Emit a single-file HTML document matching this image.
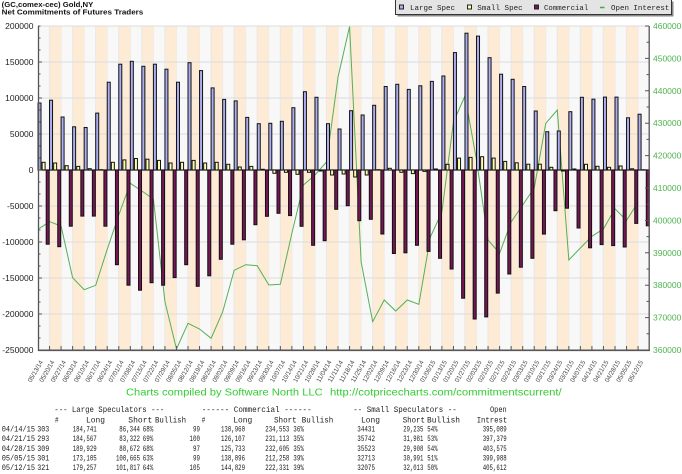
<!DOCTYPE html>
<html><head><meta charset="utf-8"><style>
html,body{margin:0;padding:0;background:#fff;}
svg{display:block;}
.l{fill:#acaef0;stroke:#111;stroke-width:1}
.s{fill:#ffffaa;stroke:#111;stroke-width:1}
.c{fill:#771555;stroke:#111;stroke-width:1}
.ax{font-family:"Liberation Sans",sans-serif;font-size:8.5px;fill:#222}
.ar{font-family:"Liberation Sans",sans-serif;font-size:8.5px;fill:#4db34d}
.dl{font-family:"Liberation Sans",sans-serif;font-size:6.5px;fill:#444}
.tb{font-family:"Liberation Mono",monospace;font-size:8px;fill:#222}
.lg{font-family:"Liberation Mono",monospace;font-size:7.5px;fill:#222}
</style></head><body>
<svg width="682" height="474" viewBox="0 0 682 474" xmlns="http://www.w3.org/2000/svg">
<defs>
<pattern id="st" x="38" y="0" width="23.08" height="474" patternUnits="userSpaceOnUse">
<rect x="0" y="0" width="11.54" height="474" fill="#f8f8f8"/>
<rect x="11.54" y="0" width="11.54" height="474" fill="#fdebd5"/>
<rect x="11.04" y="0" width="0.8" height="474" fill="#e6e6e6"/>
<rect x="-0.4" y="0" width="0.8" height="474" fill="#e6e6e6"/>
</pattern>
</defs>
<rect x="0" y="0" width="682" height="474" fill="#fff"/>
<!-- title -->
<text x="1.7" y="6.8" font-family="Liberation Sans, sans-serif" font-weight="bold" font-size="7px" fill="#111" textLength="91.6" lengthAdjust="spacingAndGlyphs">(GC,comex-cec) Gold,NY</text>
<text x="1.7" y="14.6" font-family="Liberation Sans, sans-serif" font-weight="bold" font-size="7px" fill="#111" textLength="141.6" lengthAdjust="spacingAndGlyphs">Net Commitments of Futures Traders</text>
<!-- legend -->
<rect x="397.5" y="1.5" width="276" height="15" fill="#8a8a8a"/>
<rect x="395.5" y="-0.5" width="276" height="15" fill="#e4e4e4" stroke="#333" stroke-width="1"/>
<rect x="399.5" y="5" width="4" height="4" fill="#acaef0" stroke="#222" stroke-width="1"/>
<text class="lg" x="410" y="10" textLength="45" lengthAdjust="spacingAndGlyphs">Large Spec</text>
<rect x="467.5" y="5" width="4" height="4" fill="#ffffaa" stroke="#222" stroke-width="1"/>
<text class="lg" x="477.3" y="10" textLength="45.4" lengthAdjust="spacingAndGlyphs">Small Spec</text>
<rect x="534.5" y="5" width="4" height="4" fill="#771555" stroke="#222" stroke-width="1"/>
<text class="lg" x="544" y="10" textLength="44.3" lengthAdjust="spacingAndGlyphs">Commercial</text>
<line x1="600" y1="7.5" x2="604.5" y2="7.5" stroke="#44aa44" stroke-width="1.5"/>
<text class="lg" x="611" y="10" textLength="58.3" lengthAdjust="spacingAndGlyphs">Open Interest</text>
<!-- plot background -->
<rect x="38" y="26" width="611.6" height="324" fill="url(#st)"/>
<g stroke="#dcdcdc" stroke-width="1">
<line x1="38" y1="26" x2="649.5" y2="26"/>
<line x1="38" y1="62" x2="649.5" y2="62"/>
<line x1="38" y1="98" x2="649.5" y2="98"/>
<line x1="38" y1="134" x2="649.5" y2="134"/>
<line x1="38" y1="206" x2="649.5" y2="206"/>
<line x1="38" y1="242" x2="649.5" y2="242"/>
<line x1="38" y1="278" x2="649.5" y2="278"/>
<line x1="38" y1="314" x2="649.5" y2="314"/>
</g>
<line x1="38" y1="170" x2="649.5" y2="170" stroke="#999" stroke-width="1.6"/>
<!-- open interest line -->
<polyline fill="none" stroke="#55b055" stroke-width="1" points="38,229.3 49.54,221.7 61.08,226 72.62,277.7 84.16,289.7 95.7,285.3 107.24,249.3 118.78,215 130.32,183.3 141.86,191 153.4,199 164.94,301.7 176.48,349 188.02,323.3 199.56,329 211.1,338.3 222.64,312 234.18,270.3 245.72,264.7 257.26,265.7 268.8,285 280.34,284.3 291.88,233.3 303.42,185 314.96,175 326.5,162 338.04,77 349.58,26.5 361.12,262 372.66,321.7 384.2,300 395.74,311 407.28,300 418.82,304.3 430.36,237 441.9,212 453.44,122 464.98,96 476.52,160 488.06,240 499.6,253.3 511.14,222 522.68,205 534.22,188 545.76,123.3 557.3,110 568.84,260 580.38,248 591.92,236.3 603.46,228.9 615,208.8 626.54,220.4 638.08,202.2"/>
<!-- large spec -->
<g>
<rect class="l" x="38.00" y="103.0" width="3" height="67.0"/>
<rect class="l" x="49.54" y="100.2" width="3" height="69.8"/>
<rect class="l" x="61.08" y="117.0" width="3" height="53.0"/>
<rect class="l" x="72.62" y="126.8" width="3" height="43.2"/>
<rect class="l" x="84.16" y="127.5" width="3" height="42.5"/>
<rect class="l" x="95.70" y="113.1" width="3" height="56.9"/>
<rect class="l" x="107.24" y="82.2" width="3" height="87.8"/>
<rect class="l" x="118.78" y="64.2" width="3" height="105.8"/>
<rect class="l" x="130.32" y="61.3" width="3" height="108.7"/>
<rect class="l" x="141.86" y="66.3" width="3" height="103.7"/>
<rect class="l" x="153.40" y="64.2" width="3" height="105.8"/>
<rect class="l" x="164.94" y="69.2" width="3" height="100.8"/>
<rect class="l" x="176.48" y="82.2" width="3" height="87.8"/>
<rect class="l" x="188.02" y="62.7" width="3" height="107.3"/>
<rect class="l" x="199.56" y="70.6" width="3" height="99.4"/>
<rect class="l" x="211.10" y="87.9" width="3" height="82.1"/>
<rect class="l" x="222.64" y="99.4" width="3" height="70.6"/>
<rect class="l" x="234.18" y="100.9" width="3" height="69.1"/>
<rect class="l" x="245.72" y="117.4" width="3" height="52.6"/>
<rect class="l" x="257.26" y="123.7" width="3" height="46.3"/>
<rect class="l" x="268.80" y="123.3" width="3" height="46.7"/>
<rect class="l" x="280.34" y="121.3" width="3" height="48.7"/>
<rect class="l" x="291.88" y="107.7" width="3" height="62.3"/>
<rect class="l" x="303.42" y="91.7" width="3" height="78.3"/>
<rect class="l" x="314.96" y="97.3" width="3" height="72.7"/>
<rect class="l" x="326.50" y="123.7" width="3" height="46.3"/>
<rect class="l" x="338.04" y="129.0" width="3" height="41.0"/>
<rect class="l" x="349.58" y="110.7" width="3" height="59.3"/>
<rect class="l" x="361.12" y="115.0" width="3" height="55.0"/>
<rect class="l" x="372.66" y="105.3" width="3" height="64.7"/>
<rect class="l" x="384.20" y="86.5" width="3" height="83.5"/>
<rect class="l" x="395.74" y="84.3" width="3" height="85.7"/>
<rect class="l" x="407.28" y="89.4" width="3" height="80.6"/>
<rect class="l" x="418.82" y="85.8" width="3" height="84.2"/>
<rect class="l" x="430.36" y="81.4" width="3" height="88.6"/>
<rect class="l" x="441.90" y="76.0" width="3" height="94.0"/>
<rect class="l" x="453.44" y="52.6" width="3" height="117.4"/>
<rect class="l" x="464.98" y="33.2" width="3" height="136.8"/>
<rect class="l" x="476.52" y="36.1" width="3" height="133.9"/>
<rect class="l" x="488.06" y="57.7" width="3" height="112.3"/>
<rect class="l" x="499.60" y="74.2" width="3" height="95.8"/>
<rect class="l" x="511.14" y="79.3" width="3" height="90.7"/>
<rect class="l" x="522.68" y="86.5" width="3" height="83.5"/>
<rect class="l" x="534.22" y="111.0" width="3" height="59.0"/>
<rect class="l" x="545.76" y="131.7" width="3" height="38.3"/>
<rect class="l" x="557.30" y="131.0" width="3" height="39.0"/>
<rect class="l" x="568.84" y="111.7" width="3" height="58.3"/>
<rect class="l" x="580.38" y="97.3" width="3" height="72.7"/>
<rect class="l" x="591.92" y="99.2" width="3" height="70.8"/>
<rect class="l" x="603.46" y="97.1" width="3" height="72.9"/>
<rect class="l" x="615.00" y="97.1" width="3" height="72.9"/>
<rect class="l" x="626.54" y="117.8" width="3" height="52.2"/>
<rect class="l" x="638.08" y="114.2" width="3" height="55.8"/>
</g>
<!-- small spec -->
<g>
<rect class="s" x="42.10" y="162.3" width="3" height="7.7"/>
<rect class="s" x="53.64" y="163.0" width="3" height="7.0"/>
<rect class="s" x="65.18" y="165.7" width="3" height="4.3"/>
<rect class="s" x="76.72" y="166.4" width="3" height="3.6"/>
<rect class="s" x="88.26" y="168.7" width="3" height="1.3"/>
<rect class="s" x="99.80" y="169.7" width="3" height="0.3"/>
<rect class="s" x="111.34" y="162.3" width="3" height="7.7"/>
<rect class="s" x="122.88" y="159.9" width="3" height="10.1"/>
<rect class="s" x="134.42" y="158.5" width="3" height="11.5"/>
<rect class="s" x="145.96" y="159.2" width="3" height="10.8"/>
<rect class="s" x="157.50" y="160.4" width="3" height="9.6"/>
<rect class="s" x="169.04" y="163.0" width="3" height="7.0"/>
<rect class="s" x="180.58" y="162.3" width="3" height="7.7"/>
<rect class="s" x="192.12" y="160.4" width="3" height="9.6"/>
<rect class="s" x="203.66" y="163.0" width="3" height="7.0"/>
<rect class="s" x="215.20" y="162.3" width="3" height="7.7"/>
<rect class="s" x="226.74" y="164.3" width="3" height="5.7"/>
<rect class="s" x="238.28" y="167.0" width="3" height="3.0"/>
<rect class="s" x="249.82" y="166.4" width="3" height="3.6"/>
<rect class="s" x="261.36" y="169.3" width="3" height="0.7"/>
<rect class="s" x="272.90" y="170" width="3" height="3.3"/>
<rect class="s" x="284.44" y="170" width="3" height="2.3"/>
<rect class="s" x="295.98" y="170" width="3" height="4.3"/>
<rect class="s" x="307.52" y="170" width="3" height="2.3"/>
<rect class="s" x="319.06" y="170" width="3" height="1.0"/>
<rect class="s" x="330.60" y="170" width="3" height="5.0"/>
<rect class="s" x="342.14" y="170" width="3" height="4.0"/>
<rect class="s" x="353.68" y="170" width="3" height="7.0"/>
<rect class="s" x="365.22" y="170" width="3" height="5.0"/>
<rect class="s" x="376.76" y="169.7" width="3" height="0.3"/>
<rect class="s" x="388.30" y="168.3" width="3" height="1.7"/>
<rect class="s" x="399.84" y="170" width="3" height="2.3"/>
<rect class="s" x="411.38" y="170" width="3" height="3.6"/>
<rect class="s" x="422.92" y="170" width="3" height="1.4"/>
<rect class="s" x="434.46" y="169.0" width="3" height="1.0"/>
<rect class="s" x="446.00" y="164.3" width="3" height="5.7"/>
<rect class="s" x="457.54" y="158.1" width="3" height="11.9"/>
<rect class="s" x="469.08" y="157.4" width="3" height="12.6"/>
<rect class="s" x="480.62" y="156.7" width="3" height="13.3"/>
<rect class="s" x="492.16" y="158.1" width="3" height="11.9"/>
<rect class="s" x="503.70" y="161.4" width="3" height="8.6"/>
<rect class="s" x="515.24" y="162.8" width="3" height="7.2"/>
<rect class="s" x="526.78" y="164.2" width="3" height="5.8"/>
<rect class="s" x="538.32" y="164.2" width="3" height="5.8"/>
<rect class="s" x="549.86" y="167.3" width="3" height="2.7"/>
<rect class="s" x="561.40" y="170" width="3" height="1.0"/>
<rect class="s" x="572.94" y="169.0" width="3" height="1.0"/>
<rect class="s" x="584.48" y="164.3" width="3" height="5.7"/>
<rect class="s" x="596.02" y="166.3" width="3" height="3.7"/>
<rect class="s" x="607.56" y="167.3" width="3" height="2.7"/>
<rect class="s" x="619.10" y="166.0" width="3" height="4.0"/>
<rect class="s" x="630.64" y="168.8" width="3" height="1.2"/>
<rect class="s" x="642.18" y="169.8" width="3" height="0.2"/>
</g>
<!-- commercial -->
<g>
<rect class="c" x="46.20" y="170" width="3" height="74.2"/>
<rect class="c" x="57.74" y="170" width="3" height="76.7"/>
<rect class="c" x="69.28" y="170" width="3" height="56.2"/>
<rect class="c" x="80.82" y="170" width="3" height="46.1"/>
<rect class="c" x="92.36" y="170" width="3" height="46.1"/>
<rect class="c" x="103.90" y="170" width="3" height="56.2"/>
<rect class="c" x="115.44" y="170" width="3" height="94.7"/>
<rect class="c" x="126.98" y="170" width="3" height="115.2"/>
<rect class="c" x="138.52" y="170" width="3" height="120.2"/>
<rect class="c" x="150.06" y="170" width="3" height="112.7"/>
<rect class="c" x="161.60" y="170" width="3" height="115.2"/>
<rect class="c" x="173.14" y="170" width="3" height="107.6"/>
<rect class="c" x="184.68" y="170" width="3" height="94.7"/>
<rect class="c" x="196.22" y="170" width="3" height="116.3"/>
<rect class="c" x="207.76" y="170" width="3" height="105.8"/>
<rect class="c" x="219.30" y="170" width="3" height="89.3"/>
<rect class="c" x="230.84" y="170" width="3" height="74.2"/>
<rect class="c" x="242.38" y="170" width="3" height="69.8"/>
<rect class="c" x="253.92" y="170" width="3" height="54.7"/>
<rect class="c" x="265.46" y="170" width="3" height="46.3"/>
<rect class="c" x="277.00" y="170" width="3" height="43.3"/>
<rect class="c" x="288.54" y="170" width="3" height="45.6"/>
<rect class="c" x="300.08" y="170" width="3" height="56.3"/>
<rect class="c" x="311.62" y="170" width="3" height="75.3"/>
<rect class="c" x="323.16" y="170" width="3" height="70.7"/>
<rect class="c" x="334.70" y="170" width="3" height="39.3"/>
<rect class="c" x="346.24" y="170" width="3" height="35.7"/>
<rect class="c" x="357.78" y="170" width="3" height="50.7"/>
<rect class="c" x="369.32" y="170" width="3" height="49.3"/>
<rect class="c" x="380.86" y="170" width="3" height="64.0"/>
<rect class="c" x="392.40" y="170" width="3" height="83.5"/>
<rect class="c" x="403.94" y="170" width="3" height="82.8"/>
<rect class="c" x="415.48" y="170" width="3" height="75.3"/>
<rect class="c" x="427.02" y="170" width="3" height="81.4"/>
<rect class="c" x="438.56" y="170" width="3" height="88.3"/>
<rect class="c" x="450.10" y="170" width="3" height="99.0"/>
<rect class="c" x="461.64" y="170" width="3" height="128.2"/>
<rect class="c" x="473.18" y="170" width="3" height="149.0"/>
<rect class="c" x="484.72" y="170" width="3" height="146.9"/>
<rect class="c" x="496.26" y="170" width="3" height="123.1"/>
<rect class="c" x="507.80" y="170" width="3" height="104.0"/>
<rect class="c" x="519.34" y="170" width="3" height="97.2"/>
<rect class="c" x="530.88" y="170" width="3" height="88.3"/>
<rect class="c" x="542.42" y="170" width="3" height="64.1"/>
<rect class="c" x="553.96" y="170" width="3" height="40.7"/>
<rect class="c" x="565.50" y="170" width="3" height="38.2"/>
<rect class="c" x="577.04" y="170" width="3" height="58.0"/>
<rect class="c" x="588.58" y="170" width="3" height="77.8"/>
<rect class="c" x="600.12" y="170" width="3" height="74.6"/>
<rect class="c" x="611.66" y="170" width="3" height="75.6"/>
<rect class="c" x="623.20" y="170" width="3" height="77.0"/>
<rect class="c" x="634.74" y="170" width="3" height="53.4"/>
<rect class="c" x="646.28" y="170" width="3" height="55.8"/>
</g>
<!-- axes -->
<g stroke="#555" fill="none">
<line x1="38.5" y1="26" x2="38.5" y2="351" stroke-width="1.3"/>
<line x1="649.2" y1="26" x2="649.2" y2="351" stroke-width="1.3"/>
<line x1="38" y1="350.3" x2="649.8" y2="350.3" stroke-width="1.6"/>
<path stroke-width="1" d="M38,26h2.5M38,38h2.5M38,50h2.5M38,62h4M38,74h2.5M38,86h2.5M38,98h4M38,110h2.5M38,122h2.5M38,134h4M38,146h2.5M38,158h2.5M38,170h4M38,182h2.5M38,194h2.5M38,206h4M38,218h2.5M38,230h2.5M38,242h4M38,254h2.5M38,266h2.5M38,278h4M38,290h2.5M38,302h2.5M38,314h4M38,326h2.5M38,338h2.5"/>
<path stroke-width="1" d="M649,26h-4M649,42.2h-2.5M649,58.4h-4M649,74.6h-2.5M649,90.8h-4M649,107h-2.5M649,123.2h-4M649,139.4h-2.5M649,155.6h-4M649,171.8h-2.5M649,188h-4M649,204.2h-2.5M649,220.4h-4M649,236.6h-2.5M649,252.8h-4M649,269h-2.5M649,285.2h-4M649,301.4h-2.5M649,317.6h-4M649,333.8h-2.5"/>
<path stroke-width="1" d="M49.54,350v-4M61.08,350v-4M72.62,350v-4M84.16,350v-4M95.7,350v-4M107.24,350v-4M118.78,350v-4M130.32,350v-4M141.86,350v-4M153.4,350v-4M164.94,350v-4M176.48,350v-4M188.02,350v-4M199.56,350v-4M211.1,350v-4M222.64,350v-4M234.18,350v-4M245.72,350v-4M257.26,350v-4M268.8,350v-4M280.34,350v-4M291.88,350v-4M303.42,350v-4M314.96,350v-4M326.5,350v-4M338.04,350v-4M349.58,350v-4M361.12,350v-4M372.66,350v-4M384.2,350v-4M395.74,350v-4M407.28,350v-4M418.82,350v-4M430.36,350v-4M441.9,350v-4M453.44,350v-4M464.98,350v-4M476.52,350v-4M488.06,350v-4M499.6,350v-4M511.14,350v-4M522.68,350v-4M534.22,350v-4M545.76,350v-4M557.3,350v-4M568.84,350v-4M580.38,350v-4M591.92,350v-4M603.46,350v-4M615,350v-4M626.54,350v-4M638.08,350v-4"/>
</g>
<!-- left labels -->
<g class="ax" text-anchor="end">
<text x="33.5" y="29">200000</text>
<text x="33.5" y="65">150000</text>
<text x="33.5" y="101">100000</text>
<text x="33.5" y="137">50000</text>
<text x="33.5" y="173">0</text>
<text x="33.5" y="209">-50000</text>
<text x="33.5" y="245">-100000</text>
<text x="33.5" y="281">-150000</text>
<text x="33.5" y="317">-200000</text>
<text x="33.5" y="353">-250000</text>
</g>
<!-- right labels -->
<g class="ar">
<text x="653" y="29">460000</text>
<text x="653" y="61.4">450000</text>
<text x="653" y="93.8">440000</text>
<text x="653" y="126.2">430000</text>
<text x="653" y="158.6">420000</text>
<text x="653" y="191">410000</text>
<text x="653" y="223.4">400000</text>
<text x="653" y="255.8">390000</text>
<text x="653" y="288.2">380000</text>
<text x="653" y="320.6">370000</text>
<text x="653" y="353">360000</text>
</g>
<!-- date labels -->
<g class="dl" text-anchor="end">
<text transform="translate(43.2,362) rotate(-60)" textLength="24" lengthAdjust="spacingAndGlyphs">05/13/14</text>
<text transform="translate(54.74,362) rotate(-60)" textLength="24" lengthAdjust="spacingAndGlyphs">05/20/14</text>
<text transform="translate(66.28,362) rotate(-60)" textLength="24" lengthAdjust="spacingAndGlyphs">05/27/14</text>
<text transform="translate(77.82,362) rotate(-60)" textLength="24" lengthAdjust="spacingAndGlyphs">06/03/14</text>
<text transform="translate(89.36,362) rotate(-60)" textLength="24" lengthAdjust="spacingAndGlyphs">06/10/14</text>
<text transform="translate(100.9,362) rotate(-60)" textLength="24" lengthAdjust="spacingAndGlyphs">06/17/14</text>
<text transform="translate(112.44,362) rotate(-60)" textLength="24" lengthAdjust="spacingAndGlyphs">06/24/14</text>
<text transform="translate(123.98,362) rotate(-60)" textLength="24" lengthAdjust="spacingAndGlyphs">07/01/14</text>
<text transform="translate(135.52,362) rotate(-60)" textLength="24" lengthAdjust="spacingAndGlyphs">07/08/14</text>
<text transform="translate(147.06,362) rotate(-60)" textLength="24" lengthAdjust="spacingAndGlyphs">07/15/14</text>
<text transform="translate(158.6,362) rotate(-60)" textLength="24" lengthAdjust="spacingAndGlyphs">07/22/14</text>
<text transform="translate(170.14,362) rotate(-60)" textLength="24" lengthAdjust="spacingAndGlyphs">07/29/14</text>
<text transform="translate(181.68,362) rotate(-60)" textLength="24" lengthAdjust="spacingAndGlyphs">08/05/14</text>
<text transform="translate(193.22,362) rotate(-60)" textLength="24" lengthAdjust="spacingAndGlyphs">08/12/14</text>
<text transform="translate(204.76,362) rotate(-60)" textLength="24" lengthAdjust="spacingAndGlyphs">08/19/14</text>
<text transform="translate(216.3,362) rotate(-60)" textLength="24" lengthAdjust="spacingAndGlyphs">08/26/14</text>
<text transform="translate(227.84,362) rotate(-60)" textLength="24" lengthAdjust="spacingAndGlyphs">09/02/14</text>
<text transform="translate(239.38,362) rotate(-60)" textLength="24" lengthAdjust="spacingAndGlyphs">09/09/14</text>
<text transform="translate(250.92,362) rotate(-60)" textLength="24" lengthAdjust="spacingAndGlyphs">09/16/14</text>
<text transform="translate(262.46,362) rotate(-60)" textLength="24" lengthAdjust="spacingAndGlyphs">09/23/14</text>
<text transform="translate(274,362) rotate(-60)" textLength="24" lengthAdjust="spacingAndGlyphs">09/30/14</text>
<text transform="translate(285.54,362) rotate(-60)" textLength="24" lengthAdjust="spacingAndGlyphs">10/07/14</text>
<text transform="translate(297.08,362) rotate(-60)" textLength="24" lengthAdjust="spacingAndGlyphs">10/14/14</text>
<text transform="translate(308.62,362) rotate(-60)" textLength="24" lengthAdjust="spacingAndGlyphs">10/21/14</text>
<text transform="translate(320.16,362) rotate(-60)" textLength="24" lengthAdjust="spacingAndGlyphs">10/28/14</text>
<text transform="translate(331.7,362) rotate(-60)" textLength="24" lengthAdjust="spacingAndGlyphs">11/04/14</text>
<text transform="translate(343.24,362) rotate(-60)" textLength="24" lengthAdjust="spacingAndGlyphs">11/11/14</text>
<text transform="translate(354.78,362) rotate(-60)" textLength="24" lengthAdjust="spacingAndGlyphs">11/18/14</text>
<text transform="translate(366.32,362) rotate(-60)" textLength="24" lengthAdjust="spacingAndGlyphs">11/25/14</text>
<text transform="translate(377.86,362) rotate(-60)" textLength="24" lengthAdjust="spacingAndGlyphs">12/02/14</text>
<text transform="translate(389.4,362) rotate(-60)" textLength="24" lengthAdjust="spacingAndGlyphs">12/09/14</text>
<text transform="translate(400.94,362) rotate(-60)" textLength="24" lengthAdjust="spacingAndGlyphs">12/16/14</text>
<text transform="translate(412.48,362) rotate(-60)" textLength="24" lengthAdjust="spacingAndGlyphs">12/23/14</text>
<text transform="translate(424.02,362) rotate(-60)" textLength="24" lengthAdjust="spacingAndGlyphs">12/30/14</text>
<text transform="translate(435.56,362) rotate(-60)" textLength="24" lengthAdjust="spacingAndGlyphs">01/06/15</text>
<text transform="translate(447.1,362) rotate(-60)" textLength="24" lengthAdjust="spacingAndGlyphs">01/13/15</text>
<text transform="translate(458.64,362) rotate(-60)" textLength="24" lengthAdjust="spacingAndGlyphs">01/20/15</text>
<text transform="translate(470.18,362) rotate(-60)" textLength="24" lengthAdjust="spacingAndGlyphs">01/27/15</text>
<text transform="translate(481.72,362) rotate(-60)" textLength="24" lengthAdjust="spacingAndGlyphs">02/03/15</text>
<text transform="translate(493.26,362) rotate(-60)" textLength="24" lengthAdjust="spacingAndGlyphs">02/10/15</text>
<text transform="translate(504.8,362) rotate(-60)" textLength="24" lengthAdjust="spacingAndGlyphs">02/17/15</text>
<text transform="translate(516.34,362) rotate(-60)" textLength="24" lengthAdjust="spacingAndGlyphs">02/24/15</text>
<text transform="translate(527.88,362) rotate(-60)" textLength="24" lengthAdjust="spacingAndGlyphs">03/03/15</text>
<text transform="translate(539.42,362) rotate(-60)" textLength="24" lengthAdjust="spacingAndGlyphs">03/10/15</text>
<text transform="translate(550.96,362) rotate(-60)" textLength="24" lengthAdjust="spacingAndGlyphs">03/17/15</text>
<text transform="translate(562.5,362) rotate(-60)" textLength="24" lengthAdjust="spacingAndGlyphs">03/24/15</text>
<text transform="translate(574.04,362) rotate(-60)" textLength="24" lengthAdjust="spacingAndGlyphs">03/31/15</text>
<text transform="translate(585.58,362) rotate(-60)" textLength="24" lengthAdjust="spacingAndGlyphs">04/07/15</text>
<text transform="translate(597.12,362) rotate(-60)" textLength="24" lengthAdjust="spacingAndGlyphs">04/14/15</text>
<text transform="translate(608.66,362) rotate(-60)" textLength="24" lengthAdjust="spacingAndGlyphs">04/21/15</text>
<text transform="translate(620.2,362) rotate(-60)" textLength="24" lengthAdjust="spacingAndGlyphs">04/28/15</text>
<text transform="translate(631.74,362) rotate(-60)" textLength="24" lengthAdjust="spacingAndGlyphs">05/05/15</text>
<text transform="translate(643.28,362) rotate(-60)" textLength="24" lengthAdjust="spacingAndGlyphs">05/12/15</text>
</g>
<!-- credit -->
<text x="126" y="395.5" font-family="Liberation Sans, sans-serif" font-size="10.4px" fill="#33cc33" textLength="196.7" lengthAdjust="spacingAndGlyphs">Charts compiled by Software North LLC</text>
<text x="330" y="395.5" font-family="Liberation Sans, sans-serif" font-size="10.4px" fill="#33cc33" textLength="231.7" lengthAdjust="spacingAndGlyphs">http://cotpricecharts.com/commitmentscurrent/</text>
<!-- table -->
<g class="tb" lengthAdjust="spacingAndGlyphs">
<text x="54.3" y="412" textLength="110" lengthAdjust="spacingAndGlyphs">--- Large Speculators ---</text>
<text x="201.7" y="412" textLength="110" lengthAdjust="spacingAndGlyphs">------ Commercial ------</text>
<text x="353.3" y="412" textLength="103.4" lengthAdjust="spacingAndGlyphs">-- Small Speculators --</text>
<text x="490" y="412" textLength="16.7" lengthAdjust="spacingAndGlyphs">Open</text>

<text x="55" y="422.3" textLength="3.5" lengthAdjust="spacingAndGlyphs">#</text>
<text x="86" y="422.3" textLength="19" lengthAdjust="spacingAndGlyphs">Long</text>
<text x="128.3" y="422.3" textLength="24" lengthAdjust="spacingAndGlyphs">Short</text>
<text x="155" y="422.3" textLength="31" lengthAdjust="spacingAndGlyphs">Bullish</text>
<text x="201.7" y="422.3" textLength="3.5" lengthAdjust="spacingAndGlyphs">#</text>
<text x="233.3" y="422.3" textLength="19" lengthAdjust="spacingAndGlyphs">Long</text>
<text x="274" y="422.3" textLength="22.7" lengthAdjust="spacingAndGlyphs">Short</text>
<text x="301.7" y="422.3" textLength="31.6" lengthAdjust="spacingAndGlyphs">Bullish</text>
<text x="361" y="422.3" textLength="19" lengthAdjust="spacingAndGlyphs">Long</text>
<text x="402.7" y="422.3" textLength="22.3" lengthAdjust="spacingAndGlyphs">Short</text>
<text x="427" y="422.3" textLength="33" lengthAdjust="spacingAndGlyphs">Bullish</text>
<text x="476.7" y="422.3" textLength="30.5" lengthAdjust="spacingAndGlyphs">Intrest</text>

<text x="1.7" y="431.7" textLength="33.3" lengthAdjust="spacingAndGlyphs">04/14/15</text>
<text x="37.3" y="431.7" textLength="12" lengthAdjust="spacingAndGlyphs">303</text>
<text x="72.7" y="431.7" textLength="24" lengthAdjust="spacingAndGlyphs">184,741</text>
<text x="119.3" y="431.7" textLength="20.7" lengthAdjust="spacingAndGlyphs">86,344</text>
<text x="142.7" y="431.7" textLength="10.6" lengthAdjust="spacingAndGlyphs">68%</text>
<text x="193" y="431.7" textLength="7" lengthAdjust="spacingAndGlyphs">99</text>
<text x="221" y="431.7" textLength="24" lengthAdjust="spacingAndGlyphs">130,960</text>
<text x="265.3" y="431.7" textLength="24" lengthAdjust="spacingAndGlyphs">234,553</text>
<text x="293.3" y="431.7" textLength="10.6" lengthAdjust="spacingAndGlyphs">36%</text>
<text x="357.3" y="431.7" textLength="17.7" lengthAdjust="spacingAndGlyphs">34431</text>
<text x="403.3" y="431.7" textLength="20" lengthAdjust="spacingAndGlyphs">29,235</text>
<text x="427.3" y="431.7" textLength="10.3" lengthAdjust="spacingAndGlyphs">54%</text>
<text x="482.7" y="431.7" textLength="24" lengthAdjust="spacingAndGlyphs">395,089</text>

<text x="1.7" y="441.2" textLength="33.3" lengthAdjust="spacingAndGlyphs">04/21/15</text>
<text x="37.3" y="441.2" textLength="12" lengthAdjust="spacingAndGlyphs">293</text>
<text x="72.7" y="441.2" textLength="24" lengthAdjust="spacingAndGlyphs">184,567</text>
<text x="119.3" y="441.2" textLength="20.7" lengthAdjust="spacingAndGlyphs">83,322</text>
<text x="142.7" y="441.2" textLength="10.6" lengthAdjust="spacingAndGlyphs">69%</text>
<text x="189.5" y="441.2" textLength="10.5" lengthAdjust="spacingAndGlyphs">100</text>
<text x="221" y="441.2" textLength="24" lengthAdjust="spacingAndGlyphs">126,107</text>
<text x="265.3" y="441.2" textLength="24" lengthAdjust="spacingAndGlyphs">231,113</text>
<text x="293.3" y="441.2" textLength="10.6" lengthAdjust="spacingAndGlyphs">35%</text>
<text x="357.3" y="441.2" textLength="17.7" lengthAdjust="spacingAndGlyphs">35742</text>
<text x="403.3" y="441.2" textLength="20" lengthAdjust="spacingAndGlyphs">31,981</text>
<text x="427.3" y="441.2" textLength="10.3" lengthAdjust="spacingAndGlyphs">53%</text>
<text x="482.7" y="441.2" textLength="24" lengthAdjust="spacingAndGlyphs">397,379</text>

<text x="1.7" y="450.8" textLength="33.3" lengthAdjust="spacingAndGlyphs">04/28/15</text>
<text x="37.3" y="450.8" textLength="12" lengthAdjust="spacingAndGlyphs">309</text>
<text x="72.7" y="450.8" textLength="24" lengthAdjust="spacingAndGlyphs">189,929</text>
<text x="119.3" y="450.8" textLength="20.7" lengthAdjust="spacingAndGlyphs">88,672</text>
<text x="142.7" y="450.8" textLength="10.6" lengthAdjust="spacingAndGlyphs">68%</text>
<text x="193" y="450.8" textLength="7" lengthAdjust="spacingAndGlyphs">97</text>
<text x="221" y="450.8" textLength="24" lengthAdjust="spacingAndGlyphs">125,733</text>
<text x="265.3" y="450.8" textLength="24" lengthAdjust="spacingAndGlyphs">232,605</text>
<text x="293.3" y="450.8" textLength="10.6" lengthAdjust="spacingAndGlyphs">35%</text>
<text x="357.3" y="450.8" textLength="17.7" lengthAdjust="spacingAndGlyphs">35523</text>
<text x="403.3" y="450.8" textLength="20" lengthAdjust="spacingAndGlyphs">29,908</text>
<text x="427.3" y="450.8" textLength="10.3" lengthAdjust="spacingAndGlyphs">54%</text>
<text x="482.7" y="450.8" textLength="24" lengthAdjust="spacingAndGlyphs">403,575</text>

<text x="1.7" y="460.3" textLength="33.3" lengthAdjust="spacingAndGlyphs">05/05/15</text>
<text x="37.3" y="460.3" textLength="12" lengthAdjust="spacingAndGlyphs">301</text>
<text x="72.7" y="460.3" textLength="24" lengthAdjust="spacingAndGlyphs">173,105</text>
<text x="116" y="460.3" textLength="24" lengthAdjust="spacingAndGlyphs">100,665</text>
<text x="142.7" y="460.3" textLength="10.6" lengthAdjust="spacingAndGlyphs">63%</text>
<text x="193" y="460.3" textLength="7" lengthAdjust="spacingAndGlyphs">99</text>
<text x="221" y="460.3" textLength="24" lengthAdjust="spacingAndGlyphs">138,096</text>
<text x="265.3" y="460.3" textLength="24" lengthAdjust="spacingAndGlyphs">212,258</text>
<text x="293.3" y="460.3" textLength="10.6" lengthAdjust="spacingAndGlyphs">39%</text>
<text x="357.3" y="460.3" textLength="17.7" lengthAdjust="spacingAndGlyphs">32713</text>
<text x="403.3" y="460.3" textLength="20" lengthAdjust="spacingAndGlyphs">30,991</text>
<text x="427.3" y="460.3" textLength="10.3" lengthAdjust="spacingAndGlyphs">51%</text>
<text x="482.7" y="460.3" textLength="24" lengthAdjust="spacingAndGlyphs">399,988</text>

<text x="1.7" y="469.8" textLength="33.3" lengthAdjust="spacingAndGlyphs">05/12/15</text>
<text x="37.3" y="469.8" textLength="12" lengthAdjust="spacingAndGlyphs">321</text>
<text x="72.7" y="469.8" textLength="24" lengthAdjust="spacingAndGlyphs">179,257</text>
<text x="116" y="469.8" textLength="24" lengthAdjust="spacingAndGlyphs">101,817</text>
<text x="142.7" y="469.8" textLength="10.6" lengthAdjust="spacingAndGlyphs">64%</text>
<text x="189.5" y="469.8" textLength="10.5" lengthAdjust="spacingAndGlyphs">105</text>
<text x="221" y="469.8" textLength="24" lengthAdjust="spacingAndGlyphs">144,829</text>
<text x="265.3" y="469.8" textLength="24" lengthAdjust="spacingAndGlyphs">222,331</text>
<text x="293.3" y="469.8" textLength="10.6" lengthAdjust="spacingAndGlyphs">39%</text>
<text x="357.3" y="469.8" textLength="17.7" lengthAdjust="spacingAndGlyphs">32075</text>
<text x="403.3" y="469.8" textLength="20" lengthAdjust="spacingAndGlyphs">32,013</text>
<text x="427.3" y="469.8" textLength="10.3" lengthAdjust="spacingAndGlyphs">50%</text>
<text x="482.7" y="469.8" textLength="24" lengthAdjust="spacingAndGlyphs">405,612</text>
</g>
</svg>
</body></html>
